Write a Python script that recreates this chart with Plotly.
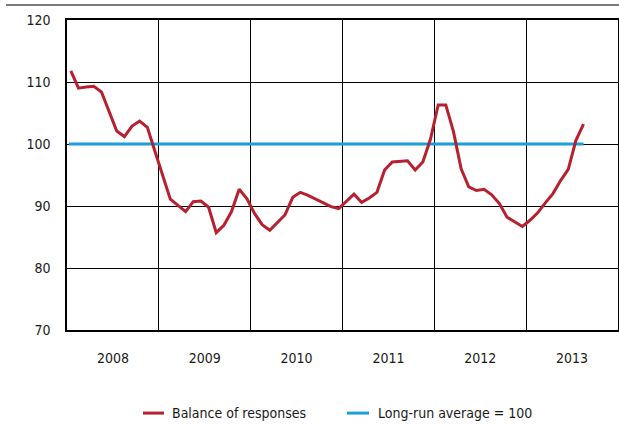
import plotly.graph_objects as go

years = [2008, 2009, 2010, 2011, 2012, 2013]
year_labels = ["2008", "2009", "2010", "2011", "2012", "2013"]

# Monthly balance of responses, Jan 2008 - Aug 2013
balance = [
    111.8, 109.0, 109.2, 109.3, 108.4, 105.2, 102.1, 101.2, 102.9, 103.7, 102.7, 98.8,   # 2008
    95.0, 91.1, 90.1, 89.1, 90.7, 90.8, 89.8, 85.7, 86.9, 89.1, 92.7, 91.2,              # 2009
    88.8, 87.0, 86.1, 87.4, 88.6, 91.4, 92.2, 91.7, 91.1, 90.5, 89.9, 89.6,              # 2010
    90.8, 91.9, 90.6, 91.3, 92.2, 95.8, 97.1, 97.2, 97.3, 95.8, 97.1, 100.8,             # 2011
    106.3, 106.3, 102.0, 96.0, 93.1, 92.5, 92.7, 91.8, 90.4, 88.2, 87.4, 86.7,           # 2012
    87.7, 88.9, 90.5, 92.0, 94.1, 95.9, 100.6, 103.2,                                    # 2013
]
long_run_avg = 100
series_names = ["Balance of responses", "Long-run average = 100"]

# fractional-year positions (mid-month)
months_x = [2008 + (i + 0.5) / 12 for i in range(len(balance))]

RED = "#B7202E"
BLUE = "#1A9FD9"
FONT = "DejaVu Sans Condensed, Liberation Sans Narrow, Liberation Sans, sans-serif"
TXT = "#1a1a1a"

fig = go.Figure()
fig.add_trace(go.Scatter(
    x=[2008 + 0.02, months_x[-1]], y=[long_run_avg, long_run_avg], mode="lines",
    name=series_names[1], line=dict(color=BLUE, width=3), showlegend=False,
))
fig.add_trace(go.Scatter(
    x=months_x, y=balance, mode="lines", name=series_names[0],
    line=dict(color=RED, width=3), showlegend=False,
))

# custom legend (paper coordinates)
leg_y = -0.268
shapes = [
    dict(type="line", xref="paper", yref="paper", x0=-0.1107, x1=1.002,
         y0=1.0484, y1=1.0484, line=dict(color="#7a7a7a", width=2)),
    dict(type="line", xref="paper", yref="paper", x0=0.1379, x1=0.1760,
         y0=leg_y, y1=leg_y, line=dict(color=RED, width=3)),
    dict(type="line", xref="paper", yref="paper", x0=0.5082, x1=0.5481,
         y0=leg_y, y1=leg_y, line=dict(color=BLUE, width=3)),
]
annotations = [
    dict(xref="paper", yref="paper", x=0.1869, y=leg_y, xanchor="left", yanchor="middle",
         text=series_names[0], showarrow=False, font=dict(size=14, color=TXT)),
    dict(xref="paper", yref="paper", x=0.5608, y=leg_y, xanchor="left", yanchor="middle",
         text=series_names[1], showarrow=False, font=dict(size=14, color=TXT)),
]

fig.update_layout(
    width=619, height=424,
    margin=dict(l=67, r=1, t=20, b=94),
    paper_bgcolor="white", plot_bgcolor="white",
    font=dict(family=FONT, size=14, color=TXT),
    showlegend=False,
    xaxis=dict(
        range=[2008, 2014], tickvals=[y + 0.5 for y in years], ticktext=year_labels,
        showgrid=False, zeroline=False, ticks="",
        showline=True, linecolor="black", linewidth=1.5, mirror=True,
        ticklabelstandoff=14, automargin=False,
        minor=dict(tickvals=years[1:], showgrid=True, gridcolor="black", gridwidth=1.2),
        fixedrange=True,
    ),
    yaxis=dict(
        range=[70, 120], dtick=10, tick0=70,
        showgrid=True, gridcolor="black", gridwidth=1.2, zeroline=False, ticks="",
        showline=True, linecolor="black", linewidth=1.5, mirror=True,
        ticklabelstandoff=12, automargin=False, fixedrange=True,
    ),
    shapes=shapes,
    annotations=annotations,
)

fig.write_html(
    "out.html",
    config={"displayModeBar": False},
    post_script="document.body.style.margin='0';document.body.style.overflow='hidden';",
)
